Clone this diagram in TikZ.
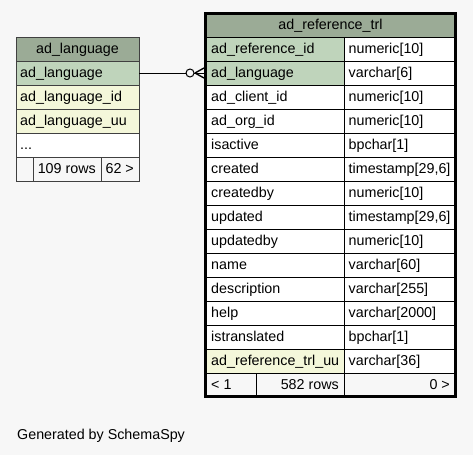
\documentclass[tikz,border=0pt]{standalone}
\usepackage{fontspec}
\setmainfont{Liberation Sans}
\definecolor{bg}{HTML}{F7F7F7}
\definecolor{hdr}{HTML}{9BAB96}
\definecolor{keyc}{HTML}{BFD4BB}
\definecolor{idxc}{HTML}{F4F7DA}
\definecolor{ltline}{HTML}{404040}
\begin{document}
\begin{tikzpicture}[x=1pt,y=-1pt,
  txt/.style={inner sep=0pt, font=\fontsize{14.3}{16}\selectfont},
  lbox/.style={draw=ltline, line width=1pt, inner sep=0pt, outer sep=0pt, anchor=north west, minimum height=24pt},
  rbox/.style={draw=black, line width=1pt, inner sep=0pt, outer sep=0pt, anchor=north west, minimum height=24pt},
  conn/.style={draw=black, line width=1pt}]
\fill[bg] (0,0) rectangle (473,455);
\useasboundingbox (0,0) rectangle (473,455);

% ---------- left table ----------
\node[lbox, fill=hdr, minimum width=123pt] (lh) at (16,37) {};
\node[txt, anchor=base] (lht) at (77.5,53.5) {ad\_language};
\node[lbox, fill=keyc, minimum width=123pt] (lr1) at (16,61) {};
\node[txt, anchor=base west] (lt1) at (20,77) {ad\_language};
\node[lbox, fill=idxc, minimum width=123pt] (lr2) at (16,85) {};
\node[txt, anchor=base west] (lt2) at (20,101) {ad\_language\_id};
\node[lbox, fill=idxc, minimum width=123pt] (lr3) at (16,109) {};
\node[txt, anchor=base west] (lt3) at (20,125) {ad\_language\_uu};
\node[lbox, fill=white, minimum width=123pt] (lr4) at (16,133) {};
\node[txt, anchor=base west] (lt4) at (20,149) {...};
\node[lbox, fill=bg, minimum width=17pt] (lf1) at (16,157) {};
\node[lbox, fill=bg, minimum width=68pt] (lf2) at (33,157) {};
\node[lbox, fill=bg, minimum width=38pt] (lf3) at (101,157) {};
\node[txt, anchor=base east] (lft2) at (96,173) {109 rows};
\node[txt, anchor=base east] (lft3) at (134,173) {62 >};

% ---------- right table ----------
\node[rbox, fill=hdr, minimum width=249pt] (rh) at (206,13) {};
\node[txt, anchor=base] (rht) at (330.5,29) {ad\_reference\_trl};
\foreach \n/\t/\c [count=\i] in {
  ad\_reference\_id/{numeric[10]}/keyc,
  ad\_language/{varchar[6]}/keyc,
  ad\_client\_id/{numeric[10]}/white,
  ad\_org\_id/{numeric[10]}/white,
  isactive/{bpchar[1]}/white,
  created/{timestamp[29,6]}/white,
  createdby/{numeric[10]}/white,
  updated/{timestamp[29,6]}/white,
  updatedby/{numeric[10]}/white,
  name/{varchar[60]}/white,
  description/{varchar[255]}/white,
  help/{varchar[2000]}/white,
  istranslated/{bpchar[1]}/white,
  ad\_reference\_trl\_uu/{varchar[36]}/idxc}{
  \pgfmathsetmacro{\yy}{37+24*(\i-1)}
  \node[rbox, fill=\c, minimum width=138pt] (rn\i) at (206,\yy) {};
  \node[rbox, fill=white, minimum width=111pt] (rt\i) at (344,\yy) {};
  \node[txt, anchor=base west] (rnt\i) at (211,\yy+16.5) {\n};
  \node[txt, anchor=base west] (rtt\i) at (348.5,\yy+16.5) {\t};
}
\node[rbox, fill=bg, minimum width=50pt] (rf1) at (206,373) {};
\node[rbox, fill=bg, minimum width=88pt] (rf2) at (256,373) {};
\node[rbox, fill=bg, minimum width=111pt] (rf3) at (344,373) {};
\node[txt, anchor=base west] (rft1) at (211,389.5) {< 1};
\node[txt, anchor=base east] (rft2) at (339,389.5) {582 rows};
\node[txt, anchor=base east] (rft3) at (450,389.5) {0 >};
\draw[line width=3pt] (205.5,13.5) rectangle (455.5,396.5);

% ---------- connector ----------
\coordinate (cend) at ([xshift=-2pt]rn2.west);
\coordinate (circ) at (190,73);
\draw[conn] (lr1.east) -- ([xshift=-4pt]circ);
\draw[conn] (circ) circle (4pt);
\draw[conn] ([xshift=4pt]circ) -- (cend);
\draw[conn, line width=1.4pt] ([xshift=5pt]circ) -- ([yshift=-5pt]cend);
\draw[conn, line width=1.4pt] ([xshift=5pt]circ) -- ([yshift=5pt]cend);

\node[txt, anchor=base west] (gen) at (17,439) {Generated by SchemaSpy};
\end{tikzpicture}
\end{document}
